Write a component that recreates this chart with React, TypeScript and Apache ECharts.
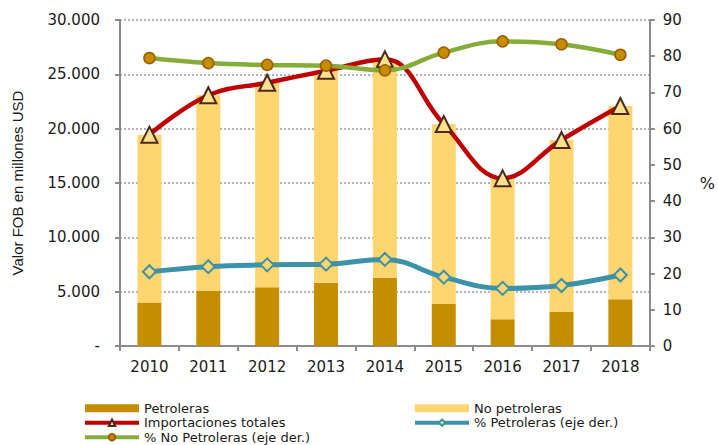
import React, { useEffect, useRef } from "react";
import * as echarts from "echarts";

const years = ["2010", "2011", "2012", "2013", "2014", "2015", "2016", "2017", "2018"];
const petroleras = [4000, 5060, 5400, 5830, 6290, 3870, 2460, 3160, 4300];
const noPetroleras = [15450, 18010, 18830, 19500, 20090, 16560, 12970, 15800, 17790];
const totales = [19450, 23070, 24230, 25330, 26380, 20430, 15430, 18960, 22090];
const pctPetroleras = [20.5, 21.9, 22.4, 22.6, 23.9, 19.0, 15.9, 16.7, 19.6];
const pctNoPetroleras = [79.5, 78.1, 77.6, 77.4, 76.1, 81.0, 84.1, 83.3, 80.4];

const FONT = "DejaVu Sans";

export default function App() {
  const ref = useRef<HTMLDivElement>(null);
  useEffect(() => {
    if (!ref.current) return;
    const chart = echarts.init(ref.current, undefined, { renderer: "svg" });
    const fmt = (v: number) => {
      if (v === 0) return "-";
      return String(v).replace(/\B(?=(\d{3})+(?!\d))/g, ".");
    };
    const legendText = { fontFamily: FONT, fontSize: 13, color: "#1a1a1a", lineHeight: 14.5 };
    chart.setOption({
      animation: false,
      backgroundColor: "#ffffff",
      grid: { left: 120, right: 63, top: 20, bottom: 99 },
      legend: [
        {
          orient: "vertical",
          left: 83,
          top: 401,
          padding: 0,
          height: 50,
          itemWidth: 54,
          itemHeight: 8,
          itemGap: 0,
          lineStyle: { width: 4 },
          textStyle: legendText,
          data: [
            { name: "Petroleras", icon: "rect" },
            { name: "Importaciones totales" },
            { name: "% No Petroleras (eje der.)" },
          ],
        },
        {
          orient: "vertical",
          left: 413,
          top: 401,
          padding: 0,
          height: 50,
          itemWidth: 54,
          itemHeight: 8,
          itemGap: 0,
          lineStyle: { width: 4 },
          textStyle: legendText,
          data: [{ name: "No petroleras", icon: "rect" }, { name: "% Petroleras (eje der.)" }],
        },
      ],
      xAxis: {
        type: "category",
        data: years,
        boundaryGap: true,
        axisLine: { lineStyle: { color: "#8c8c8c", width: 2 } },
        axisTick: { show: true, length: 5, lineStyle: { color: "#8c8c8c", width: 2 } },
        axisLabel: { fontFamily: FONT, fontSize: 15, color: "#1a1a1a", margin: 13 },
      },
      yAxis: [
        {
          type: "value",
          min: 0,
          max: 30000,
          interval: 5000,
          name: "Valor FOB en millones USD",
          nameLocation: "middle",
          nameGap: 95,
          nameTextStyle: { fontFamily: "Liberation Sans", fontSize: 15, color: "#1a1a1a" },
          axisLine: { show: true, lineStyle: { color: "#8c8c8c", width: 2 } },
          axisTick: { show: true, length: 5, lineStyle: { color: "#8c8c8c", width: 2 } },
          axisLabel: { fontFamily: FONT, fontSize: 15, color: "#1a1a1a", margin: 20, formatter: fmt },
          splitLine: { show: true, lineStyle: { color: "#9a9a9a", type: [2, 2], width: 1.5 } },
        },
        {
          type: "value",
          min: 0,
          max: 90,
          interval: 10,
          name: "%",
          nameLocation: "middle",
          nameRotate: 0,
          nameGap: 50,
          nameTextStyle: { fontFamily: FONT, fontSize: 16, color: "#1a1a1a" },
          axisLine: { show: true, lineStyle: { color: "#8c8c8c", width: 2 } },
          axisTick: { show: true, length: 5, lineStyle: { color: "#8c8c8c", width: 2 } },
          axisLabel: { fontFamily: FONT, fontSize: 15, color: "#1a1a1a", margin: 13 },
          splitLine: { show: false },
        },
      ],
      series: [
        {
          name: "Petroleras",
          type: "bar",
          stack: "total",
          data: petroleras,
          barWidth: 24,
          itemStyle: { color: "#C48E00" },
          z: 1,
        },
        {
          name: "No petroleras",
          type: "bar",
          stack: "total",
          data: noPetroleras,
          barWidth: 24,
          itemStyle: { color: "#FFD570" },
          z: 1,
        },
        {
          name: "Importaciones totales",
          type: "line",
          data: totales,
          smooth: 0.4,
          symbol: "triangle",
          symbolSize: 16,
          lineStyle: { color: "#C00000", width: 4.5 },
          itemStyle: { color: "#FFE08C", borderColor: "#4A2A1E", borderWidth: 2 },
          z: 3,
        },
        {
          name: "% Petroleras (eje der.)",
          type: "line",
          yAxisIndex: 1,
          data: pctPetroleras,
          smooth: 0.4,
          symbol: "diamond",
          symbolSize: 13,
          lineStyle: { color: "#3A93A8", width: 5 },
          itemStyle: { color: "#FFD570", borderColor: "#3A93A8", borderWidth: 2 },
          z: 3,
        },
        {
          name: "% No Petroleras (eje der.)",
          type: "line",
          yAxisIndex: 1,
          data: pctNoPetroleras,
          smooth: 0.4,
          symbol: "circle",
          symbolSize: 11,
          lineStyle: { color: "#84AD37", width: 4.5 },
          itemStyle: { color: "#C48E00", borderColor: "#A05A00", borderWidth: 1.5 },
          z: 4,
        },
      ],
    });
    return () => chart.dispose();
  }, []);
  return <div ref={ref} style={{ position: "fixed", left: 0, top: 0, width: 718, height: 445 }} />;
}
